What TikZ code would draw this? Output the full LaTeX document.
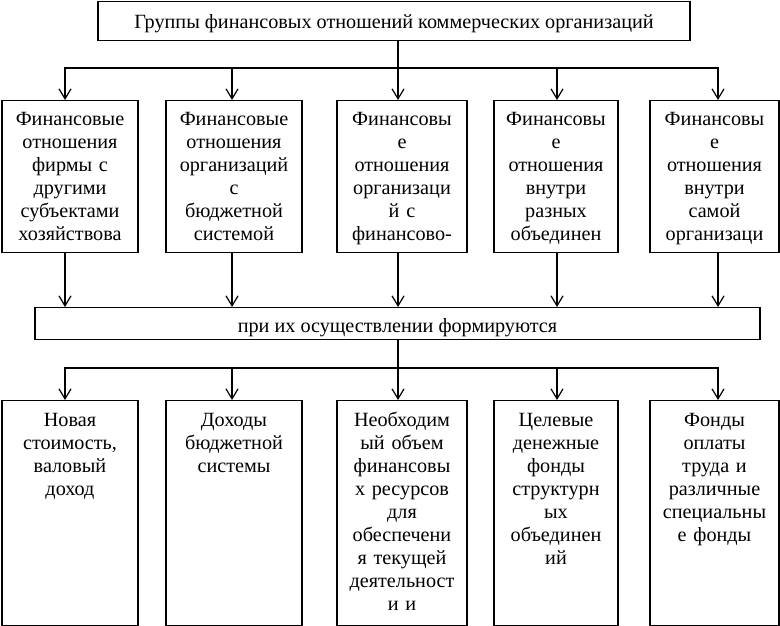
\documentclass[tikz,border=0pt]{standalone}
\usepackage{fontspec}
\setmainfont{Liberation Serif}
\usetikzlibrary{arrows.meta}

\begin{document}
\begin{tikzpicture}[x=1pt, y=-1pt, font=\fontsize{20.2}{23}\selectfont,
    box/.style={draw, line width=1.2pt, inner sep=0pt, align=center, anchor=north},
    grp/.style={box, text height=25pt, text depth=127pt},
    res/.style={box, text height=26pt, text depth=199pt},
    link/.style={line width=1.2pt},
    arr/.style={link, -{Straight Barb[length=10pt, width=12pt]}}]

    \useasboundingbox (0,0) rectangle (780,626);

    \node[box, minimum width=592pt, text height=27pt, text depth=12pt] (head) at (394,0.6)
        {Группы финансовых отношений коммерческих организаций};

    \node[grp, text width=136pt] (g1) at (70,100) {Финансовые\\отношения\\фирмы с\\другими\\субъектами\\хозяйствова};
    \node[grp, text width=136pt] (g2) at (234,100) {Финансовые\\отношения\\организаций\\с\\бюджетной\\системой};
    \node[grp, text width=130pt] (g3) at (402,100) {Финансовы\\е\\отношения\\организаци\\й с\\финансово-};
    \node[grp, text width=124pt] (g4) at (556,100) {Финансовы\\е\\отношения\\внутри\\разных\\объединен};
    \node[grp, text width=129pt] (g5) at (714.5,100) {Финансовы\\е\\отношения\\внутри\\самой\\организаци};

    \node[box, minimum width=725pt, text height=25pt, text depth=7pt] (mid) at (397.5,307)
        {при их осуществлении формируются};

    \node[res, text width=136pt] (r1) at (70,400) {Новая\\стоимость,\\валовый\\доход};
    \node[res, text width=136pt] (r2) at (234,400) {Доходы\\бюджетной\\системы};
    \node[res, text width=130pt] (r3) at (402,400) {Необходим\\ый объем\\финансовы\\х ресурсов\\для\\обеспечени\\я текущей\\деятельност\\и и};
    \node[res, text width=124pt] (r4) at (556,400) {Целевые\\денежные\\фонды\\структурн\\ых\\объединен\\ий};
    \node[res, text width=129pt] (r5) at (714.5,400) {Фонды\\оплаты\\труда и\\различные\\специальны\\е фонды};

    \coordinate (up) at (398,68);
    \coordinate (lo) at (398,368);
    \draw[link] (head.south -| up) -- (up);
    \draw[link] (mid.south -| lo) -- (lo);

    \foreach \n/\dx in {1/-5, 2/-2, 3/-4, 4/1, 5/3.5}{
        \draw[arr] (up) -| ([xshift=\dx pt]g\n.north);
        \draw[arr] ([xshift=\dx pt]g\n.south) -- ([xshift=\dx pt]g\n.south |- mid.north);
        \draw[arr] (lo) -| ([xshift=\dx pt]r\n.north);
    }
\end{tikzpicture}
\end{document}
